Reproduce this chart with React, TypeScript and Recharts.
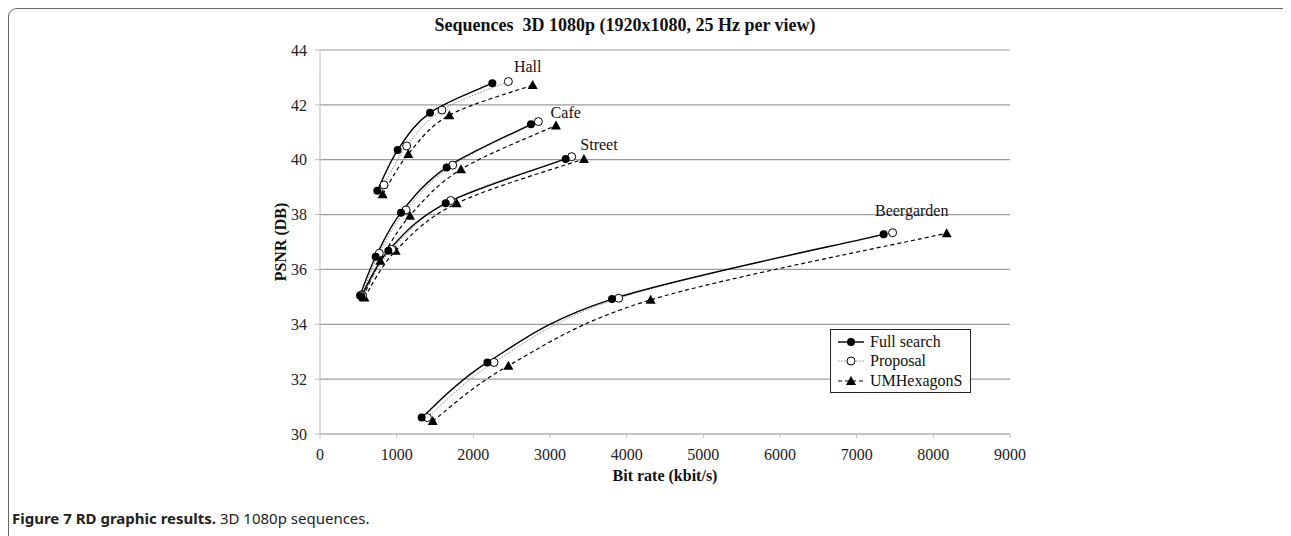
import React from "react";
import { LineChart, Line, XAxis, YAxis, CartesianGrid, ReferenceDot, Label } from "recharts";

// bit rate (kbit/s) / PSNR (dB) points
const hallFull = [
  { rate: 748, psnr: 38.87 }, { rate: 1013, psnr: 40.35 }, { rate: 1435, psnr: 41.71 }, { rate: 2248, psnr: 42.79 },
];
const hallProposal = [
  { rate: 835, psnr: 39.08 }, { rate: 1130, psnr: 40.5 }, { rate: 1591, psnr: 41.81 }, { rate: 2457, psnr: 42.85 },
];
const hallUmhex = [
  { rate: 817, psnr: 38.74 }, { rate: 1152, psnr: 40.21 }, { rate: 1687, psnr: 41.62 }, { rate: 2774, psnr: 42.72 },
];

const cafeFull = [
  { rate: 522, psnr: 35.05 }, { rate: 726, psnr: 36.46 }, { rate: 1057, psnr: 38.07 }, { rate: 1652, psnr: 39.72 }, { rate: 2752, psnr: 41.29 },
];
const cafeProposal = [
  { rate: 548, psnr: 35.08 }, { rate: 774, psnr: 36.59 }, { rate: 1122, psnr: 38.17 }, { rate: 1731, psnr: 39.8 }, { rate: 2848, psnr: 41.39 },
];
const cafeUmhex = [
  { rate: 565, psnr: 35.0 }, { rate: 787, psnr: 36.32 }, { rate: 1174, psnr: 37.96 }, { rate: 1839, psnr: 39.65 }, { rate: 3078, psnr: 41.25 },
];

const streetFull = [
  { rate: 540, psnr: 35.02 }, { rate: 891, psnr: 36.68 }, { rate: 1640, psnr: 38.41 }, { rate: 3205, psnr: 40.03 },
];
const streetProposal = [
  { rate: 555, psnr: 35.05 }, { rate: 935, psnr: 36.73 }, { rate: 1704, psnr: 38.51 }, { rate: 3283, psnr: 40.11 },
];
const streetUmhex = [
  { rate: 580, psnr: 34.98 }, { rate: 987, psnr: 36.68 }, { rate: 1783, psnr: 38.41 }, { rate: 3443, psnr: 40.03 },
];

const beerFull = [
  { rate: 1326, psnr: 30.6 }, { rate: 2183, psnr: 32.61 }, { rate: 3809, psnr: 34.92 }, { rate: 7352, psnr: 37.28 },
];
const beerProposal = [
  { rate: 1400, psnr: 30.6 }, { rate: 2270, psnr: 32.61 }, { rate: 3896, psnr: 34.95 }, { rate: 7469, psnr: 37.34 },
];
const beerUmhex = [
  { rate: 1470, psnr: 30.47 }, { rate: 2457, psnr: 32.49 }, { rate: 4313, psnr: 34.89 }, { rate: 8174, psnr: 37.32 },
];

const sequenceLabels = [
  { name: "Hall", rate: 2709, psnr: 43.39 },
  { name: "Cafe", rate: 3205, psnr: 41.71 },
  { name: "Street", rate: 3639, psnr: 40.56 },
  { name: "Beergarden", rate: 7718, psnr: 38.17 },
];

const xTicks = [0, 1000, 2000, 3000, 4000, 5000, 6000, 7000, 8000, 9000];
const yTicks = [30, 32, 34, 36, 38, 40, 42, 44];

const serif = '"Liberation Serif", "Times New Roman", serif';

// spreadsheet-style smoothing (Catmull-Rom through every point)
function smoothCurve(context: any) {
  let pts: [number, number][] = [];
  return {
    areaStart() {},
    areaEnd() {},
    lineStart() {
      pts = [];
    },
    lineEnd() {
      if (!pts.length) return;
      context.moveTo(pts[0][0], pts[0][1]);
      for (let i = 0; i < pts.length - 1; i++) {
        const p0 = pts[i - 1] || pts[i];
        const p1 = pts[i];
        const p2 = pts[i + 1];
        const p3 = pts[i + 2] || p2;
        context.bezierCurveTo(
          p1[0] + (p2[0] - p0[0]) / 6, p1[1] + (p2[1] - p0[1]) / 6,
          p2[0] - (p3[0] - p1[0]) / 6, p2[1] - (p3[1] - p1[1]) / 6,
          p2[0], p2[1]
        );
      }
    },
    point(x: number, y: number) {
      pts.push([+x, +y]);
    },
  };
}

function Triangle(props: any) {
  const { cx, cy, index } = props;
  if (cx == null || cy == null) return <g key={index} />;
  return <path key={index} d={`M${cx},${cy - 5} L${cx + 5},${cy + 4} L${cx - 5},${cy + 4} Z`} fill="#000" />;
}

const fullStyle = { stroke: "#000", strokeWidth: 1.4 };
const proposalStyle = { stroke: "#8a8a8a", strokeWidth: 1, strokeDasharray: "1.5 1.5" };
const umhexStyle = { stroke: "#000", strokeWidth: 1.2, strokeDasharray: "4 3" };

const groups = [
  { key: "hall", full: hallFull, proposal: hallProposal, umhex: hallUmhex },
  { key: "cafe", full: cafeFull, proposal: cafeProposal, umhex: cafeUmhex },
  { key: "street", full: streetFull, proposal: streetProposal, umhex: streetUmhex },
  { key: "beer", full: beerFull, proposal: beerProposal, umhex: beerUmhex },
];

function LegendBox() {
  const rows = [
    { label: "Full search", kind: "full" },
    { label: "Proposal", kind: "proposal" },
    { label: "UMHexagonS", kind: "umhex" },
  ];
  return (
    <div
      style={{
        position: "absolute", left: 822, top: 321, width: 139, height: 60,
        border: "1.5px solid #222", background: "#fff", fontFamily: serif, fontSize: 16, color: "#111",
        paddingTop: 2,
      }}
    >
      {rows.map((r) => (
        <div key={r.kind} style={{ display: "flex", alignItems: "center", height: 19.5 }}>
          <svg width={34} height={14} style={{ marginLeft: 5 }}>
            {r.kind === "full" && (
              <>
                <line x1={2} y1={7} x2={28} y2={7} stroke="#000" strokeWidth={1.4} />
                <circle cx={15} cy={7} r={4} fill="#000" />
              </>
            )}
            {r.kind === "proposal" && (
              <>
                <line x1={2} y1={7} x2={28} y2={7} stroke="#8a8a8a" strokeWidth={1} strokeDasharray="1.5 1.5" />
                <circle cx={15} cy={7} r={4} fill="#fff" stroke="#000" strokeWidth={1} />
              </>
            )}
            {r.kind === "umhex" && (
              <>
                <line x1={2} y1={7} x2={28} y2={7} stroke="#000" strokeWidth={1.2} strokeDasharray="4 3" />
                <path d="M15,2 L20,11 L10,11 Z" fill="#000" />
              </>
            )}
          </svg>
          <span style={{ lineHeight: "16px" }}>{r.label}</span>
        </div>
      ))}
    </div>
  );
}

export default function App() {
  return (
    <div style={{ position: "relative", width: 1282, height: 528, overflow: "hidden" }}>
      <div
        style={{
          position: "absolute", left: 0, top: 0, width: 1279, height: 600,
          borderTop: "1.5px solid #666", borderLeft: "1.5px solid #666", borderRight: "1.5px solid #666",
          borderTopLeftRadius: 9,
        }}
      />
      <div
        style={{
          position: "absolute", left: 0, width: 1234, top: 7, textAlign: "center",
          fontFamily: serif, fontWeight: "bold", fontSize: 18, color: "#111",
        }}
      >
        Sequences&nbsp; 3D 1080p (1920x1080, 25 Hz per view)
      </div>
      <LineChart width={1282} height={528} margin={{ top: 42, right: 280, bottom: 72, left: 252 }}>
        <CartesianGrid vertical={false} stroke="#9c9c9c" strokeWidth={1.2} />
        <XAxis
          type="number"
          dataKey="rate"
          domain={[0, 9000]}
          ticks={xTicks}
          interval={0}
          allowDataOverflow
          height={30}
          stroke="#bdbdbd"
          tickSize={4}
          tickMargin={11}
          tick={{ fill: "#222", fontSize: 16, fontFamily: serif }}
        >
          <Label value="Bit rate (kbit/s)" position="bottom" offset={6} fill="#111" fontSize={16} fontWeight="bold" fontFamily={serif} />
        </XAxis>
        <YAxis
          type="number"
          dataKey="psnr"
          domain={[30, 44]}
          ticks={yTicks}
          interval={0}
          allowDataOverflow
          width={60}
          stroke="#bdbdbd"
          tickSize={5}
          tickMargin={8}
          tick={{ fill: "#222", fontSize: 16, fontFamily: serif }}
        >
          <Label value="PSNR (DB)" angle={-90} position="center" dx={-10} fill="#111" fontSize={16} fontWeight="bold" fontFamily={serif} />
        </YAxis>
        {groups.map((g) => [
          <Line
            key={g.key + "-um"}
            data={g.umhex}
            dataKey="psnr"
            type={smoothCurve as any}
            {...umhexStyle}
            dot={Triangle}
            activeDot={false}
            isAnimationActive={false}
          />,
          <Line
            key={g.key + "-prop"}
            data={g.proposal}
            dataKey="psnr"
            type={smoothCurve as any}
            {...proposalStyle}
            dot={{ r: 4, fill: "#fff", stroke: "#000", strokeWidth: 1, strokeDasharray: "" }}
            activeDot={false}
            isAnimationActive={false}
          />,
          <Line
            key={g.key + "-full"}
            data={g.full}
            dataKey="psnr"
            type={smoothCurve as any}
            {...fullStyle}
            dot={{ r: 4, fill: "#000", stroke: "#000", strokeWidth: 0 }}
            activeDot={false}
            isAnimationActive={false}
          />,
        ])}
        {sequenceLabels.map((s) => (
          <ReferenceDot
            key={s.name}
            x={s.rate}
            y={s.psnr}
            r={0}
            fill="none"
            stroke="none"
            ifOverflow="visible"
            label={{ value: s.name, position: "center", fill: "#111", fontSize: 16, fontFamily: serif }}
          />
        ))}
      </LineChart>
      <LegendBox />
      <div style={{ position: "absolute", left: 4, top: 500, fontFamily: '"Noto Sans", sans-serif', fontSize: 15, color: "#222" }}>
        <b>Figure 7 RD graphic results.</b> 3D 1080p sequences.
      </div>
    </div>
  );
}
